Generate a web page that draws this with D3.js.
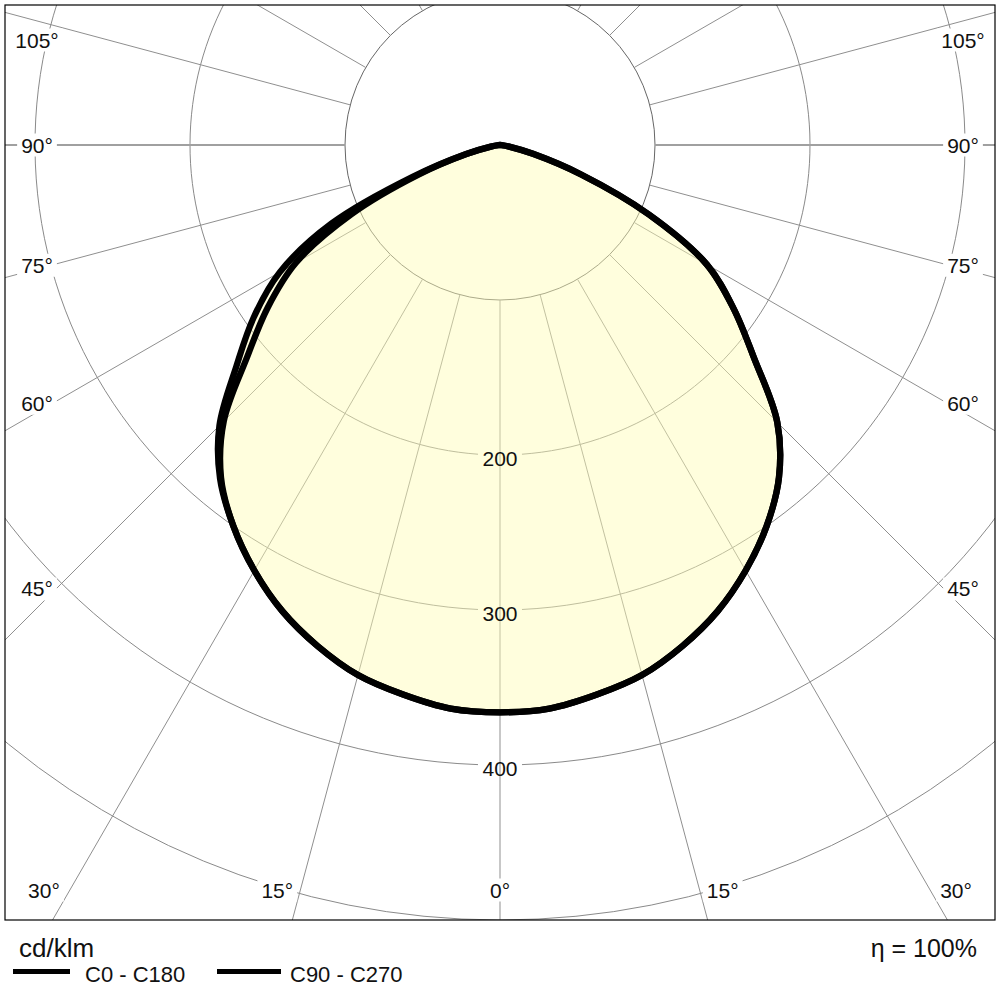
<!DOCTYPE html>
<html>
<head>
<meta charset="utf-8">
<script src="https://cdn.jsdelivr.net/npm/d3@7"></script>
<style>
  body{margin:0;background:#fff}
  svg{display:block}
  text{font-family:"Liberation Sans",Arial,sans-serif;fill:#111}
</style>
</head>
<body>
<div id="ldc"></div>
<script>
// gamma angles (deg from nadir) and intensities in cd/klm
var gammaDeg = [0,5,10,15,20,25,30,35,40,45,50,55,60,65,70,75,80,85,90];
var c0Values   = [366,365,360,354,344,332,317,300,280,253,214,184,154,106,56,22,6,1,0];
var c180Values = [366,365,360,354,344,332,317,300,281,256,222,194,164,120,60,23,6,1,0];
var c90Values  = [366,365,360,354,344,332,317,300,280,253,214,184,154,106,56,22,6,1,0];
var c270Values = [366,365,360,354,344,332,317,300,280,252,213,183,152,106,56,22,6,1,0];

var ringValues = [100,200,300,400,500,600];
var ringLabelValues = [200,300,400];
var spokeAngles = [-180,-165,-150,-135,-120,-105,-90,-75,-60,-45,-30,-15,0,15,30,45,60,75,90,105,120,135,150,165];
var angleLabelValues = [-105,-90,-75,-60,-45,-30,-15,0,15,30,45,60,75,90,105];
var unitText = "cd/klm";
var etaText = "\u03b7 = 100%";
var legendNames = ["C0 - C180","C90 - C270"];

var W = 1000, H = 1000;
var frame = {x0:5, y0:5, x1:995, y1:920};
var cx = 500, cy = 145;
var r = d3.scaleLinear().domain([0,500]).range([0,775]);

var svg = d3.select("#ldc").append("svg")
    .attr("width", W)
    .attr("height", H);

svg.append("rect").attr("width",W).attr("height",H).attr("fill","#fff");

svg.append("clipPath").attr("id","frameClip")
  .append("rect")
    .attr("x",frame.x0).attr("y",frame.y0)
    .attr("width",frame.x1-frame.x0).attr("height",frame.y1-frame.y0);

var plot = svg.append("g").attr("clip-path","url(#frameClip)");
var g = plot.append("g").attr("transform","translate("+cx+","+cy+")");

function rad(d){ return d*Math.PI/180; }

// rings, broken where the value labels sit
ringValues.forEach(function(v){
  var R = r(v);
  var p = d3.path();
  if(ringLabelValues.indexOf(v) >= 0){
    var gap = 22/R;
    p.arc(0,0,R,Math.PI/2+gap,Math.PI/2-gap+2*Math.PI);
  }else{
    p.arc(0,0,R,0,2*Math.PI);
  }
  g.append("path")
    .attr("d",p.toString())
    .attr("fill","none")
    .attr("stroke", v==100 ? "#666" : "#8a8a8a")
    .attr("stroke-width",1);
});

// spokes from the 100 ring outward
g.selectAll("line.spoke")
  .data(spokeAngles)
  .enter()
  .append("line")
    .attr("class","spoke")
    .attr("x1",function(d){ return r(100)*Math.sin(rad(d)); })
    .attr("y1",function(d){ return r(100)*Math.cos(rad(d)); })
    .attr("x2",function(d){ return 1600*Math.sin(rad(d)); })
    .attr("y2",function(d){ return 1600*Math.cos(rad(d)); })
    .attr("stroke", function(d){ return Math.abs(d)==90 ? "#a0a0a0" : "#8f8f8f"; })
    .attr("stroke-width", function(d){ return Math.abs(d)==90 ? 2 : 1; });

// polar points: left half (a = pi + gamma) then right half (a = pi - gamma)
function planePoints(leftVals, rightVals){
  var pts = [];
  for(var i = gammaDeg.length-1; i >= 0; i--){
    pts.push({a: Math.PI + rad(gammaDeg[i]), v: leftVals[i]});
  }
  for(var j = 1; j < gammaDeg.length; j++){
    pts.push({a: Math.PI - rad(gammaDeg[j]), v: rightVals[j]});
  }
  return pts;
}

var radial = d3.lineRadial()
    .angle(function(d){ return d.a; })
    .radius(function(d){ return r(d.v); })
    .curve(d3.curveCatmullRom.alpha(0.5));

var planeA = planePoints(c180Values, c0Values);
var planeB = planePoints(c270Values, c90Values);

g.append("path")
  .attr("d", radial(planeA)+"Z")
  .attr("fill","#fffcb4")
  .attr("fill-opacity",0.46)
  .attr("stroke","none");

[planeB, planeA].forEach(function(pts){
  g.append("path")
    .attr("d", radial(pts)+"Z")
    .attr("fill","none")
    .attr("stroke","#000")
    .attr("stroke-width",6.3)
    .attr("stroke-linejoin","round")
    .attr("stroke-linecap","round");
});

// ring value labels
g.selectAll("text.ringLabel")
  .data(ringLabelValues)
  .enter()
  .append("text")
    .attr("class","ringLabel")
    .attr("x",0)
    .attr("y",function(d){ return r(d)+3; })
    .attr("text-anchor","middle")
    .attr("dominant-baseline","central")
    .style("font-size","21px")
    .text(function(d){ return d; });

// angle labels at the inner edge of the frame, nudged off the spokes
var insetX = 463, insetBottom = frame.y1 - 30 - cy;
angleLabelValues.forEach(function(d){
  var sgn = d < 0 ? -1 : (d > 0 ? 1 : 0);
  var la = d + sgn*1.7*Math.cos(rad(d));
  var s = Math.sin(rad(la)), c = Math.cos(rad(la));
  var t = Math.abs(s) > 1e-6 ? insetX/Math.abs(s) : Infinity;
  if(c > 0) t = Math.min(t, insetBottom/c);
  var x = t*s, y = t*c;
  if(y < -105) y = -105;
  var lab = g.append("g").attr("transform","translate("+x+","+y+")");
  var bg = lab.append("rect").attr("fill","#fff");
  var tx = lab.append("text")
    .attr("text-anchor","middle")
    .attr("dominant-baseline","central")
    .style("font-size","21px")
    .text(Math.abs(d)+"\u00b0");
  var bb = tx.node().getBBox();
  bg.attr("x",bb.x-4).attr("y",bb.y).attr("width",bb.width+8).attr("height",bb.height);
});

svg.append("rect")
  .attr("x",frame.x0).attr("y",frame.y0)
  .attr("width",frame.x1-frame.x0).attr("height",frame.y1-frame.y0)
  .attr("fill","none")
  .attr("stroke","#000")
  .attr("stroke-width",1.2);

// footer
svg.append("text")
  .attr("x",19).attr("y",957)
  .style("font-size","26px")
  .text(unitText);

svg.append("text")
  .attr("x",977).attr("y",957)
  .attr("text-anchor","end")
  .style("font-size","25px")
  .text(etaText);

var legendX = [13, 217];
legendNames.forEach(function(name,i){
  svg.append("rect")
    .attr("x",legendX[i]).attr("y",969)
    .attr("width",i==0 ? 57 : 64).attr("height",5)
    .attr("fill","#000");
  svg.append("text")
    .attr("x",legendX[i] + (i==0 ? 72 : 73)).attr("y",982)
    .style("font-size","22px")
    .text(name);
});
</script>
</body>
</html>
